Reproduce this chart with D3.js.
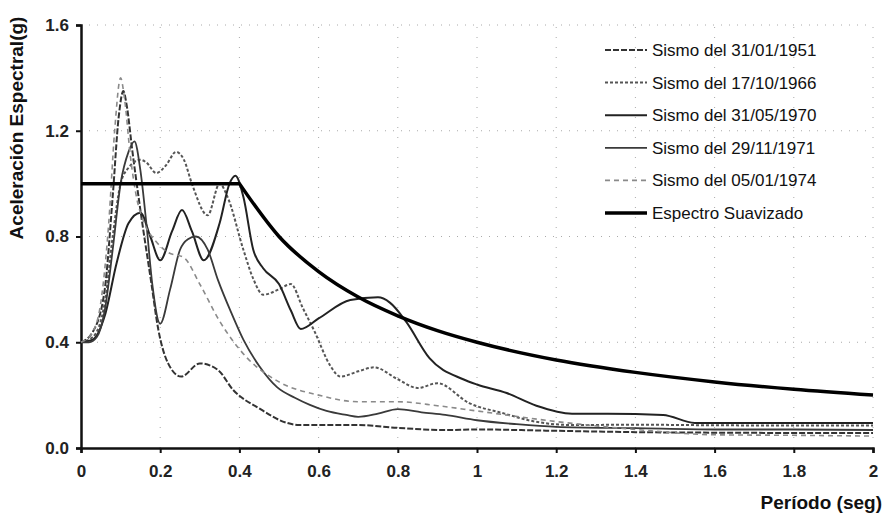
<!DOCTYPE html>
<html>
<head>
<meta charset="utf-8">
<script src="https://cdn.jsdelivr.net/npm/d3@7"></script>
<style>
  body { margin: 0; background: #fff; }
  svg { display: block; }
  text { font-family: "Liberation Sans", Arial, sans-serif; }
</style>
</head>
<body>
<div id="chart"></div>
<script>
// tick labels
var xTicks = [0, 0.2, 0.4, 0.6, 0.8, 1, 1.2, 1.4, 1.6, 1.8, 2];
var yTicks = [0, 0.4, 0.8, 1.2, 1.6];

// series names
var seriesNames = ["Sismo del 31/01/1951", "Sismo del 17/10/1966", "Sismo del 31/05/1970",
                   "Sismo del 29/11/1971", "Sismo del 05/01/1974", "Espectro Suavizado"];

// [periodo, aceleracion]
var sismo1951 = [[0,0.40],[0.03,0.44],[0.06,0.60],[0.08,0.95],[0.095,1.25],[0.107,1.35],[0.115,1.30],[0.13,1.12],
  [0.15,0.90],[0.177,0.63],[0.195,0.45],[0.22,0.32],[0.253,0.27],[0.30,0.32],[0.346,0.295],[0.384,0.22],
  [0.45,0.15],[0.52,0.095],[0.55,0.087],[0.70,0.087],[0.80,0.076],[0.92,0.068],[1.0,0.07],[1.2,0.065],
  [1.4,0.06],[1.6,0.058],[1.8,0.057],[2.0,0.057]];
var sismo1966 = [[0,0.40],[0.03,0.42],[0.06,0.55],[0.08,0.80],[0.10,1.00],[0.12,1.06],[0.15,1.09],[0.165,1.08],
  [0.19,1.04],[0.215,1.07],[0.24,1.12],[0.26,1.09],[0.28,1.00],[0.32,0.88],[0.35,1.00],[0.37,0.95],[0.41,0.75],
  [0.435,0.64],[0.46,0.58],[0.50,0.60],[0.53,0.62],[0.56,0.53],[0.59,0.44],[0.63,0.31],[0.655,0.27],[0.70,0.29],
  [0.74,0.305],[0.80,0.26],[0.85,0.227],[0.90,0.245],[0.98,0.17],[1.07,0.13],[1.13,0.105],[1.24,0.087],
  [1.4,0.088],[1.6,0.086],[1.8,0.085],[2.0,0.085]];
var sismo1970 = [[0,0.40],[0.03,0.41],[0.06,0.50],[0.09,0.70],[0.12,0.85],[0.15,0.89],[0.175,0.80],[0.20,0.71],
  [0.23,0.82],[0.255,0.90],[0.28,0.82],[0.31,0.71],[0.35,0.85],[0.375,1.00],[0.39,1.03],[0.41,0.95],[0.435,0.75],
  [0.46,0.68],[0.50,0.62],[0.53,0.52],[0.555,0.45],[0.60,0.49],[0.68,0.56],[0.75,0.57],[0.78,0.55],[0.82,0.48],
  [0.88,0.34],[0.965,0.26],[1.0,0.24],[1.075,0.208],[1.15,0.16],[1.24,0.13],[1.33,0.13],[1.47,0.125],
  [1.55,0.095],[1.8,0.095],[2.0,0.095]];
var sismo1971 = [[0,0.40],[0.02,0.40],[0.04,0.42],[0.06,0.52],[0.08,0.75],[0.10,1.00],[0.12,1.12],[0.135,1.16],
  [0.15,1.05],[0.165,0.85],[0.18,0.62],[0.20,0.47],[0.225,0.60],[0.25,0.75],[0.27,0.79],[0.29,0.80],[0.32,0.75],
  [0.346,0.635],[0.38,0.51],[0.41,0.41],[0.45,0.31],[0.495,0.23],[0.54,0.19],[0.578,0.163],[0.62,0.14],
  [0.67,0.125],[0.70,0.118],[0.75,0.13],[0.80,0.147],[0.86,0.135],[0.92,0.125],[1.0,0.105],[1.1,0.09],
  [1.2,0.08],[1.4,0.075],[1.6,0.07],[1.8,0.07],[2.0,0.068]];
var sismo1974 = [[0,0.40],[0.03,0.44],[0.05,0.55],[0.07,0.85],[0.085,1.20],[0.10,1.40],[0.11,1.32],[0.125,1.10],
  [0.14,0.95],[0.16,0.85],[0.19,0.78],[0.22,0.74],[0.26,0.72],[0.30,0.62],[0.35,0.48],[0.42,0.34],[0.50,0.25],
  [0.60,0.20],[0.70,0.175],[0.80,0.175],[0.90,0.16],[1.0,0.14],[1.2,0.10],[1.4,0.07],[1.6,0.05],[1.8,0.048],
  [2.0,0.045]];
var espectro = [[0,1.0],[0.4,1.0],[0.5,0.80],[0.6,0.667],[0.7,0.571],[0.8,0.50],[0.9,0.444],[1.0,0.40],
  [1.2,0.333],[1.4,0.286],[1.6,0.25],[1.8,0.222],[2.0,0.20]];

var W = 883, H = 514;
var x = d3.scaleLinear().domain([0, 2]).range([81, 873]);
var y = d3.scaleLinear().domain([0, 1.6]).range([448, 25]);

var svg = d3.select("#chart").append("svg")
    .attr("width", W)
    .attr("height", H);

// faint dotted grid
svg.append("g").selectAll("line.gy")
    .data(yTicks.slice(1))
    .join("line")
    .attr("x1", x(0)).attr("x2", x(2))
    .attr("y1", d => y(d)).attr("y2", d => y(d))
    .attr("stroke", "#aaa")
    .attr("stroke-dasharray", "1,7");
svg.append("g").selectAll("line.gx")
    .data(xTicks.slice(1))
    .join("line")
    .attr("x1", d => x(d)).attr("x2", d => x(d))
    .attr("y1", y(0)).attr("y2", y(1.6))
    .attr("stroke", "#aaa")
    .attr("stroke-dasharray", "1,9");

// axes
var xAxis = svg.append("g")
    .attr("transform", "translate(0," + y(0) + ")")
    .call(d3.axisBottom(x).tickValues(xTicks).tickSize(5).tickPadding(12).tickFormat(d3.format("")));
var yAxis = svg.append("g")
    .attr("transform", "translate(" + x(0) + ",0)")
    .call(d3.axisLeft(y).tickValues(yTicks).tickSize(5).tickPadding(7).tickFormat(d3.format(".1f")));

[xAxis, yAxis].forEach(function (a) {
    a.select(".domain").attr("stroke", "#111").attr("stroke-width", 2.5);
    a.selectAll(".tick line").attr("stroke", "#111").attr("stroke-width", 2);
    a.selectAll(".tick text")
        .attr("fill", "#222")
        .style("font-family", "'Liberation Sans', Arial, sans-serif")
        .style("font-size", "17px")
        .style("font-weight", "bold");
});

// series
var series = [
    {data: sismo1951, color: "#333", width: 2, dash: "6,2"},
    {data: sismo1966, color: "#555", width: 2, dash: "3,2"},
    {data: sismo1970, color: "#222", width: 2, dash: null},
    {data: sismo1971, color: "#3a3a3a", width: 1.8, dash: null},
    {data: sismo1974, color: "#8a8a8a", width: 1.6, dash: "5,4"},
    {data: espectro, color: "#000", width: 3.5, dash: null}
];

var line = d3.line()
    .x(d => x(d[0]))
    .y(d => y(d[1]))
    .curve(d3.curveMonotoneX);
var flat = d3.line()
    .x(d => x(d[0]))
    .y(d => y(d[1]));

// the smoothed spectrum has a sharp corner at T = 0.4: flat part + curved decay
function pathFor(s) {
    if (s.data !== espectro) return line(s.data);
    var plateau = s.data.filter(d => d[0] <= 0.4);
    var decay = s.data.filter(d => d[0] >= 0.4);
    return flat(plateau) + line(decay).replace(/^M/, "L");
}

svg.append("g").selectAll("path")
    .data(series)
    .join("path")
    .attr("d", pathFor)
    .attr("fill", "none")
    .attr("stroke", d => d.color)
    .attr("stroke-width", d => d.width)
    .attr("stroke-dasharray", d => d.dash)
    .attr("stroke-linejoin", "round");

// legend
var legend = svg.append("g");
var rows = legend.selectAll("g")
    .data(series)
    .join("g")
    .attr("transform", (d, i) => "translate(605," + (50 + i * 32.6) + ")");
rows.append("line")
    .attr("x1", 0).attr("x2", 42)
    .attr("stroke", d => d.color)
    .attr("stroke-width", d => d.width)
    .attr("stroke-dasharray", d => d.dash);
rows.append("text")
    .attr("x", 47)
    .attr("dy", "0.35em")
    .attr("fill", "#111")
    .style("font-size", "17px")
    .text((d, i) => seriesNames[i]);

// titles
svg.append("text")
    .attr("x", 882)
    .attr("y", 509)
    .attr("text-anchor", "end")
    .attr("fill", "#111")
    .style("font-size", "19px")
    .style("font-weight", "bold")
    .text("Período (seg)");

svg.append("text")
    .attr("transform", "translate(23,128) rotate(-90)")
    .attr("text-anchor", "middle")
    .attr("fill", "#111")
    .style("font-size", "19px")
    .style("font-weight", "bold")
    .text("Aceleración Espectral(g)");
</script>
</body>
</html>
